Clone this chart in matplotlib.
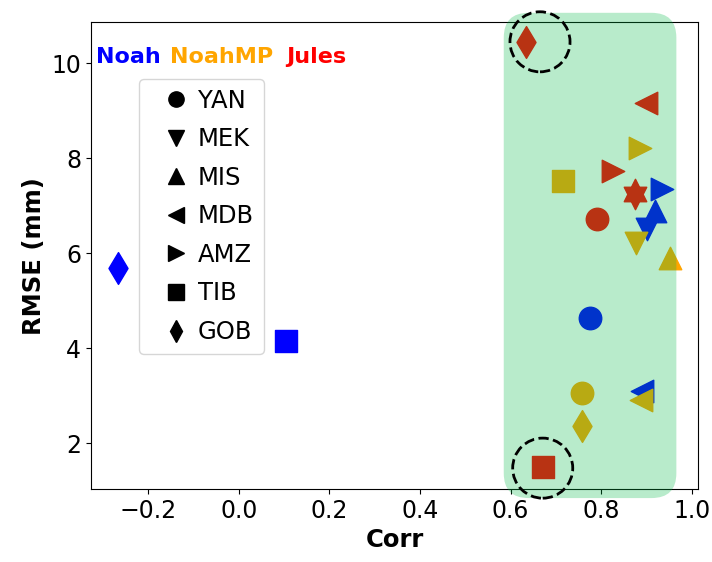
import numpy as np
import matplotlib.pyplot as plt
from matplotlib.patches import FancyBboxPatch
from matplotlib.lines import Line2D

# basins and their markers
basins = ['YAN', 'MEK', 'MIS', 'MDB', 'AMZ', 'TIB', 'GOB']
markers = ['o', 'v', '^', '<', '>', 's', 'd']

models = ['Noah', 'NoahMP', 'Jules']
colors = ['blue', 'orange', 'red']

# Corr / RMSE per basin, order as in basins
noah_corr = [0.776, 0.902, 0.918, 0.891, 0.935, 0.105, -0.266]
noah_rmse = [4.64, 6.52, 6.90, 3.10, 7.36, 4.15, 5.70]
noahmp_corr = [0.757, 0.878, 0.951, 0.889, 0.885, 0.715, 0.757]
noahmp_rmse = [3.06, 6.22, 5.90, 2.91, 8.22, 7.52, 2.36]
jules_corr = [0.790, 0.875, 0.875, 0.898, 0.827, 0.671, 0.635]
jules_rmse = [6.72, 7.17, 7.34, 9.17, 7.73, 1.50, 10.45]

# highlighted points (dashed circles)
hl_corr = [0.665, 0.671]
hl_rmse = [10.45, 1.48]

# shaded region
box_x = (0.585, 0.966)
box_y = (0.85, 11.06)

fig = plt.figure(figsize=(7.12, 5.62), dpi=100)
ax = fig.add_axes([0.1275, 0.1298, 0.853, 0.8305])

all_corr = [noah_corr, noahmp_corr, jules_corr]
all_rmse = [noah_rmse, noahmp_rmse, jules_rmse]
for corr, rmse, c in zip(all_corr, all_rmse, colors):
    for i in range(len(basins)):
        ax.scatter(corr[i], rmse[i], marker=markers[i], s=262, color=c, zorder=3)

box = FancyBboxPatch((box_x[0], box_y[0]), box_x[1] - box_x[0], box_y[1] - box_y[0],
                     boxstyle='round,pad=0,rounding_size=0.055', mutation_aspect=9.5,
                     facecolor=(0.0, 0.72, 0.28), edgecolor='none', alpha=0.28,
                     zorder=4, clip_on=False)
ax.add_patch(box)

ax.scatter(hl_corr, hl_rmse, s=1870, facecolors='none', edgecolors='black',
           linewidths=2, linestyles='--', zorder=5, clip_on=False)

# model names as colored labels
text_x = [-0.315, -0.152, 0.104]
for x, name, c in zip(text_x, models, colors):
    ax.text(x, 10.13, name, color=c, fontsize=16, fontweight='bold', va='center')

handles = [Line2D([], [], marker=m, color='black', linestyle='none', markersize=11)
           for m in markers]
ax.legend(handles, basins, loc='upper left', bbox_to_anchor=(0.080, 0.879),
          borderaxespad=0, fontsize=17.5, labelspacing=0.6,
          handlelength=2.2, handletextpad=-0.2)

ax.set_xlim(-0.3265, 1.014)
ax.set_ylim(1.04, 10.86)
ax.set_xticks([-0.2, 0.0, 0.2, 0.4, 0.6, 0.8, 1.0])
ax.set_yticks([2, 4, 6, 8, 10])
ax.tick_params(labelsize=17)
ax.set_xlabel('Corr', fontsize=17.5, fontweight='bold')
ax.set_ylabel('RMSE (mm)', fontsize=17.5, fontweight='bold')

fig.savefig('out.png', dpi=100)
